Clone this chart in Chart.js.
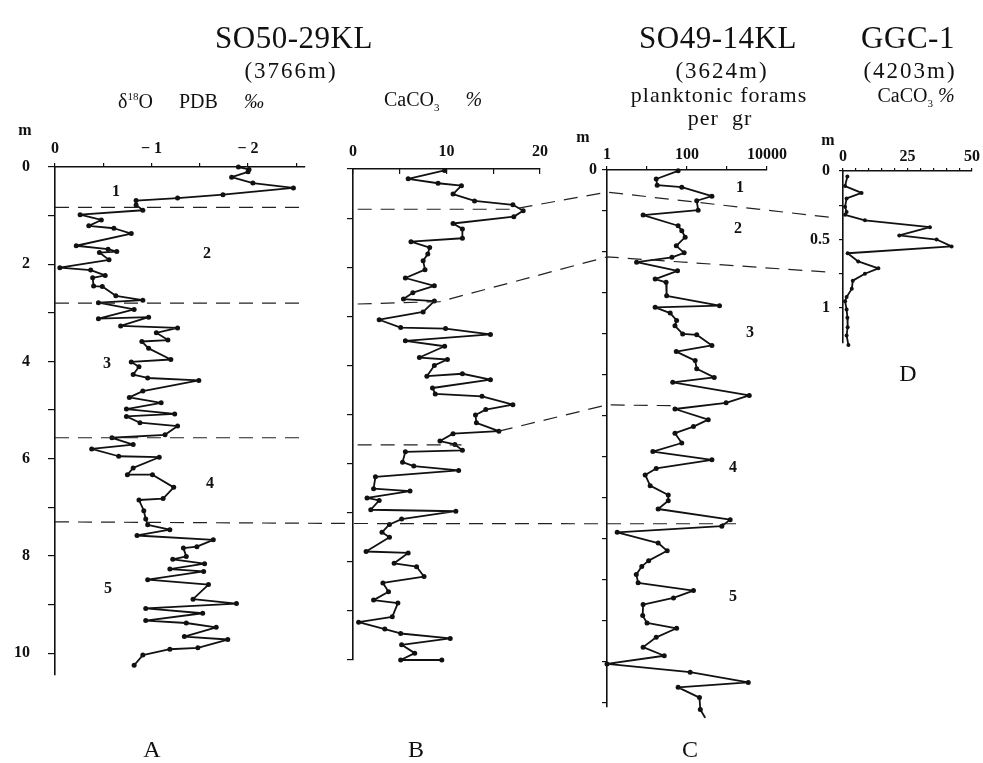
<!DOCTYPE html>
<html>
<head>
<meta charset="utf-8">
<script src="https://cdn.jsdelivr.net/npm/chart.js@4.4.0/dist/chart.umd.min.js"></script>
<style>
  html, body { margin: 0; padding: 0; background: #fff; }
  #stage { position: relative; width: 983px; height: 763px; overflow: hidden;
           font-family: "Liberation Serif", "Times New Roman", serif; color: #111; }
  #stage canvas { position: absolute; left: 0; top: 0; }
  .t { position: absolute; white-space: nowrap; transform: translate(-50%, -50%); line-height: 1; }
  .big { font-size: 31px; letter-spacing: 0.5px; }
  .sub { font-size: 23px; letter-spacing: 2px; }
  .hd { font-size: 20px; }
  .pl { font-size: 22px; letter-spacing: 1px; }
  .gap { display: inline-block; width: 26px; }
  .num { font-size: 16px; font-weight: bold; }
  .let { font-size: 24px; }
  sup, sub { font-size: 11px; }
</style>
</head>
<body>
<div id="stage">
  <canvas id="chartA" width="983" height="763"></canvas>
  <canvas id="chartB" width="983" height="763"></canvas>
  <canvas id="chartC" width="983" height="763"></canvas>
  <canvas id="chartD" width="983" height="763"></canvas>

  <div class="t big" style="left:294px;top:37px">SO50-29KL</div>
  <div class="t sub" style="left:291px;top:70px">(3766m)</div>
  <div class="t hd" style="left:191px;top:101px">δ<sup>18</sup>O<span class="gap"></span>PDB<span class="gap"></span><i>‰</i></div>
  <div class="t hd" style="left:433px;top:101px">CaCO<sub>3</sub><span class="gap"></span><i>%</i></div>
  <div class="t big" style="left:718px;top:37px">SO49-14KL</div>
  <div class="t sub" style="left:722px;top:70px">(3624m)</div>
  <div class="t pl" style="left:719px;top:95px">planktonic forams</div>
  <div class="t pl" style="left:720px;top:118px">per&nbsp;&nbsp;gr</div>
  <div class="t big" style="left:908px;top:37px">GGC-1</div>
  <div class="t sub" style="left:910px;top:70px">(4203m)</div>
  <div class="t hd" style="left:916px;top:97px">CaCO<sub>3</sub>&nbsp;<i>%</i></div>

  <div class="t num" style="left:25px;top:130px">m</div>
  <div class="t num" style="left:583px;top:137px">m</div>
  <div class="t num" style="left:828px;top:140px">m</div>

  <div class="t num" style="left:116px;top:191px">1</div>
  <div class="t num" style="left:207px;top:253px">2</div>
  <div class="t num" style="left:107px;top:363px">3</div>
  <div class="t num" style="left:210px;top:483px">4</div>
  <div class="t num" style="left:108px;top:588px">5</div>
  <div class="t num" style="left:740px;top:187px">1</div>
  <div class="t num" style="left:738px;top:228px">2</div>
  <div class="t num" style="left:750px;top:332px">3</div>
  <div class="t num" style="left:733px;top:467px">4</div>
  <div class="t num" style="left:733px;top:596px">5</div>

  <div class="t let" style="left:152px;top:749px">A</div>
  <div class="t let" style="left:416px;top:749px">B</div>
  <div class="t let" style="left:690px;top:749px">C</div>
  <div class="t let" style="left:908px;top:373px">D</div>
</div>

<script>
// ---- data ----
// A: SO50-29KL, delta18O (per mil PDB) against depth (m)
const aDepth = [0.00, 0.05, 0.10, 0.21, 0.33, 0.43, 0.57, 0.64, 0.69, 0.78, 0.89, 0.98, 1.09, 1.21, 1.26, 1.37,
  1.62, 1.69, 1.74, 1.76, 1.91, 2.07, 2.12, 2.23, 2.28, 2.45, 2.46, 2.65, 2.74, 2.79, 2.93, 3.12, 3.09, 3.27,
  3.31, 3.41, 3.56, 3.59, 3.73, 3.96, 4.01, 4.11, 4.27, 4.34, 4.39, 4.61, 4.74, 4.85, 4.98, 5.08, 5.13, 5.26,
  5.33, 5.51, 5.57, 5.71, 5.80, 5.95, 5.97, 6.19, 6.33, 6.33, 6.59, 6.82, 6.85, 7.07, 7.24, 7.36, 7.46, 7.58,
  7.67, 7.81, 7.84, 8.01, 8.07, 8.16, 8.27, 8.32, 8.49, 8.59, 8.89, 8.98, 9.08, 9.18, 9.33, 9.38, 9.47, 9.66,
  9.72, 9.89, 9.92, 10.04, 10.25];
const aD18O = [-1.90, -2.01, -2.00, -1.83, -2.05, -2.47, -1.74, -1.27, -0.84, -0.84, -0.91, -0.26, -0.48, -0.35, -0.61, -0.79,
  -0.22, -0.55, -0.64, -0.46, -0.56, -0.05, -0.37, -0.52, -0.39, -0.40, -0.49, -0.63, -0.91, -0.45, -0.82, -0.45, -0.97, -0.68,
  -1.27, -1.05, -1.17, -0.90, -0.97, -1.20, -0.79, -0.87, -0.81, -0.96, -1.49, -0.91, -0.77, -1.10, -0.74, -1.24, -0.74, -0.88,
  -1.27, -1.14, -0.59, -0.81, -0.38, -0.66, -1.08, -0.81, -0.75, -1.01, -1.23, -1.12, -0.87, -0.92, -0.94, -0.96, -1.19, -0.85,
  -1.64, -1.47, -1.33, -1.36, -1.22, -1.55, -1.19, -1.54, -0.96, -1.59, -1.43, -1.88, -0.94, -1.53, -0.94, -1.36, -1.67, -1.34,
  -1.79, -1.48, -1.19, -0.91, -0.82];

// B: SO50-29KL, CaCO3 (%)
const bDepth = [0.03, 0.20, 0.29, 0.34, 0.51, 0.65, 0.73, 0.85, 0.97, 1.11, 1.22, 1.41, 1.48, 1.60, 1.73, 1.87,
  2.05, 2.22, 2.38, 2.52, 2.65, 2.69, 2.91, 3.07, 3.23, 3.25, 3.37, 3.50, 3.61, 3.84, 3.88, 4.00, 4.22, 4.17,
  4.29, 4.46, 4.58, 4.63, 4.80, 4.90, 5.01, 5.17, 5.34, 5.39, 5.54, 5.61, 5.73, 5.76, 5.97, 6.05, 6.14, 6.27,
  6.51, 6.56, 6.70, 6.75, 6.94, 6.97, 7.13, 7.24, 7.40, 7.50, 7.79, 7.82, 8.03, 8.10, 8.30, 8.43, 8.61, 8.78,
  8.84, 9.12, 9.23, 9.37, 9.46, 9.56, 9.69, 9.86, 10.00, 10.00];
const bCaCO3 = [9.8, 5.9, 9.1, 11.6, 10.7, 13.0, 17.1, 18.2, 17.2, 10.7, 11.7, 11.7, 6.2, 8.2, 8.0, 7.5,
  7.7, 5.6, 8.7, 6.4, 5.4, 8.7, 7.5, 2.8, 5.1, 9.9, 14.7, 5.6, 9.8, 7.1, 10.1, 8.7, 7.9, 11.7,
  14.7, 8.5, 8.8, 13.8, 17.1, 14.2, 13.1, 13.2, 15.6, 10.7, 9.3, 10.9, 11.7, 5.6, 5.3, 6.5, 11.3, 2.4,
  2.2, 6.1, 1.5, 2.8, 1.9, 11.0, 5.2, 3.9, 3.1, 3.9, 1.4, 5.9, 4.4, 6.8, 7.6, 3.2, 3.8, 2.2,
  4.8, 4.2, 0.6, 3.4, 5.1, 10.4, 5.2, 6.6, 5.1, 9.5];

// C: SO49-14KL, planktonic forams per gram (log axis)
const cDepth = [0.02, 0.22, 0.37, 0.42, 0.64, 0.75, 0.98, 1.10, 1.36, 1.48, 1.64, 1.85, 2.02, 2.13, 2.25, 2.46,
  2.66, 2.74, 3.07, 3.31, 3.35, 3.49, 3.67, 3.80, 4.00, 4.02, 4.28, 4.43, 4.65, 4.85, 5.06, 5.18, 5.50, 5.68,
  5.83, 6.09, 6.26, 6.42, 6.66, 6.87, 7.07, 7.28, 7.44, 7.70, 7.93, 8.07, 8.27, 8.53, 8.69, 8.84, 9.10, 9.29,
  9.53, 9.67, 9.87, 10.07, 10.26, 10.44, 10.60, 10.87, 11.05, 11.18, 11.40, 11.64, 11.85, 12.05, 12.25, 12.50,
  12.62, 12.87, 13.16, 13.35];
const cForams = [60, 17, 18, 74, 420, 175, 190, 8, 60, 74, 90, 54, 85, 42, 5.5, 58,
  16, 30, 31, 650, 16, 38, 55, 50, 78, 175, 420, 54, 160, 175, 480, 44, 3600, 950,
  50, 340, 145, 50, 74, 14, 420, 17, 9, 12, 34, 34, 19, 1200, 740, 1.8, 19, 32,
  11, 7.4, 5.4, 6, 145, 46, 8, 7.8, 10, 55, 17, 8, 27, 1, 120, 3400,
  60, 205, 215, 280];

// D: GGC-1, CaCO3 (%)
const dDepth = [0.04, 0.11, 0.16, 0.20, 0.26, 0.30, 0.32, 0.36, 0.41, 0.47, 0.50, 0.55, 0.60, 0.66, 0.71, 0.75,
  0.80, 0.86, 0.92, 0.95, 1.01, 1.07, 1.14, 1.20, 1.27];
const dCaCO3 = [1.7, 0.8, 7.2, 1.4, 0.8, 1.4, 0.8, 8.5, 33.7, 21.8, 36.3, 42.1, 1.8, 5.9, 13.7, 8.5,
  3.8, 3.4, 1.4, 0.8, 1.4, 1.7, 1.8, 1.4, 2.1];

// ticks
const aXTicks = [0, -0.5, -1, -1.5, -2, -2.5];
const aXLabels = ['0', '', '\u2212 1', '', '\u2212 2', ''];
const aYTicks = [0, 1, 2, 3, 4, 5, 6, 7, 8, 9, 10];
const aYLabels = ['0', '', '2', '', '4', '', '6', '', '8', '', '10'];
const bXTicks = [0, 5, 10, 15, 20];
const bXLabels = ['0', '', '10', '', '20'];
const bYTicks = [0, 1, 2, 3, 4, 5, 6, 7, 8, 9, 10];
const cXTicks = [1, 10, 100, 1000, 10000];
const cXLabels = ['1', '', '100', '', '10000'];
const cYTicks = [0, 1, 2, 3, 4, 5, 6, 7, 8, 9, 10, 11, 12, 13];
const dXTicks = [0, 5, 10, 15, 20, 25, 30, 35, 40, 45, 50];
const dXLabels = ['0', '', '', '', '', '25', '', '', '', '', '50'];
const dYTicks = [0, 0.25, 0.5, 0.75, 1];
const dYLabels = ['0', '', '0.5', '', '1'];

// boundaries between stages, as [panel, x value, depth] vertices
const corrLines = [
  [['A', 0, 0.83], ['A', -2.59, 0.83]],
  [['B', 0.5, 0.82], ['B', 17, 0.82], ['C', 1, 0.54], ['D', -4, 0.34]],
  [['A', 0, 2.8], ['A', -2.59, 2.8]],
  [['B', 0.5, 2.75], ['B', 9.3, 2.7], ['C', 1, 2.12], ['D', -4, 0.74]],
  [['A', 0, 5.57], ['A', -2.59, 5.57]],
  [['B', 0.5, 5.62], ['B', 11.6, 5.62]],
  [['B', 15.6, 5.34], ['C', 1, 5.73], ['C', 40, 5.75]],
  [['A', 0, 7.3], ['B', 0, 7.22], ['C', 1, 8.63], ['C', 2400, 8.63]]
];

const W = 983, H = 763;
const INK = '#111';
const tickFont = { family: 'Liberation Serif', size: 16, weight: 'bold' };
const charts = {};

function pairs(xs, ys) {
  return ys.map((y, i) => ({ x: xs[i], y: y }));
}

function series(points, r) {
  return {
    data: points,
    showLine: true,
    borderColor: INK,
    borderWidth: 1.8,
    borderJoinStyle: 'round',
    borderCapStyle: 'round',
    pointRadius: r,
    pointBackgroundColor: INK,
    pointBorderWidth: 0,
    clip: false
  };
}

function xAxis(o) {
  return Object.assign({
    position: 'top',
    afterFit: s => { s.height = 40; },
    afterBuildTicks: s => { s.ticks = o.ticks.map(v => ({ value: v })); },
    grid: { drawOnChartArea: false, drawTicks: true, tickLength: o.tl, color: INK, lineWidth: 1.2 },
    border: { display: true, color: INK, width: 1.6 },
    ticks: { autoSkip: false, maxRotation: 0, padding: o.pad, color: INK, font: tickFont,
             callback: (v, i) => o.labels[i] }
  }, o.extra);
}

function yAxis(o) {
  return Object.assign({
    position: 'left',
    reverse: true,
    afterFit: s => { s.width = o.w; },
    afterBuildTicks: s => { s.ticks = o.ticks.map(v => ({ value: v })); },
    grid: { drawOnChartArea: false, drawTicks: true, tickLength: o.tl, color: INK, lineWidth: 1.2 },
    border: { display: true, color: INK, width: 1.6 },
    ticks: { autoSkip: false, padding: o.pad, color: INK, font: tickFont,
             callback: (v, i) => (o.labels ? (o.labels[i] || '') : '') }
  }, o.extra);
}

function panel(id, area, scales, datasets, plugins) {
  return new Chart(document.getElementById(id), {
    type: 'scatter',
    data: { datasets: datasets },
    options: {
      responsive: false,
      animation: false,
      events: [],
      layout: { padding: { left: area.l - area.yw, top: area.t - 40, right: W - area.r, bottom: H - area.b } },
      plugins: { legend: { display: false }, tooltip: { enabled: false } },
      scales: scales
    },
    plugins: plugins || []
  });
}

// dashed correlation lines drawn through every panel's scales
const corrPlugin = {
  id: 'corr',
  afterDraw(chart) {
    const ctx = chart.ctx;
    ctx.save();
    ctx.strokeStyle = '#222';
    ctx.lineWidth = 1.2;
    ctx.setLineDash([14, 9]);
    corrLines.forEach(line => {
      ctx.beginPath();
      line.forEach((p, i) => {
        const c = p[0] === 'D' ? chart : charts[p[0]];
        const px = c.scales.x.getPixelForValue(p[1]);
        const py = c.scales.y.getPixelForValue(p[2]);
        if (i === 0) ctx.moveTo(px, py); else ctx.lineTo(px, py);
      });
      ctx.stroke();
    });
    ctx.restore();
  }
};

charts.A = panel('chartA', { l: 55, t: 167, r: 305, b: 675, yw: 55 }, {
  x: xAxis({ ticks: aXTicks, labels: aXLabels, tl: 4, pad: 5, extra: { type: 'linear', reverse: true, min: -2.59, max: 0 } }),
  y: yAxis({ w: 55, ticks: aYTicks, labels: aYLabels, tl: 7, pad: 18, extra: { type: 'linear', min: 0, max: 10.45 } })
}, [series(pairs(aD18O, aDepth), 2.5)]);

charts.B = panel('chartB', { l: 353, t: 169, r: 540, b: 660, yw: 30 }, {
  x: xAxis({ ticks: bXTicks, labels: bXLabels, tl: -5, pad: 13, extra: { type: 'linear', min: 0, max: 20 } }),
  y: yAxis({ w: 30, ticks: bYTicks, tl: 6, pad: 4, extra: { type: 'linear', min: 0, max: 10 } })
}, [series(pairs(bCaCO3, bDepth), 2.5)]);

charts.C = panel('chartC', { l: 607, t: 170, r: 767, b: 707, yw: 50 }, {
  x: xAxis({ ticks: cXTicks, labels: cXLabels, tl: 4, pad: 2, extra: { type: 'logarithmic', min: 1, max: 10000 } }),
  y: yAxis({ w: 50, ticks: cYTicks, labels: ['0'], tl: 5, pad: 5, extra: { type: 'linear', min: 0, max: 13.1 } })
}, [series(pairs(cForams, cDepth), 2.5)]);

charts.D = panel('chartD', { l: 843, t: 171, r: 972, b: 343, yw: 40 }, {
  x: xAxis({ ticks: dXTicks, labels: dXLabels, tl: 3, pad: 2, extra: { type: 'linear', min: 0, max: 50 } }),
  y: yAxis({ w: 40, ticks: dYTicks, labels: dYLabels, tl: 4, pad: 9, extra: { type: 'linear', min: 0, max: 1.255 } })
}, [series(pairs(dCaCO3, dDepth), 2)], [corrPlugin]);
</script>
</body>
</html>
